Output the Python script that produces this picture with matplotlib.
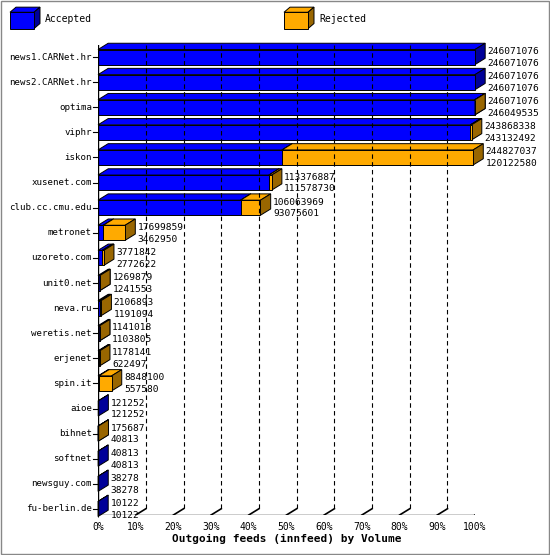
import matplotlib
matplotlib.use('Agg')
import matplotlib.pyplot as plt
from matplotlib.patches import Polygon, Rectangle

hosts = ['news1.CARNet.hr', 'news2.CARNet.hr', 'optima', 'viphr', 'iskon',
         'xusenet.com', 'club.cc.cmu.edu', 'metronet', 'uzoreto.com', 'unit0.net',
         'neva.ru', 'weretis.net', 'erjenet', 'spin.it', 'aioe', 'bihnet',
         'softnet', 'newsguy.com', 'fu-berlin.de']
offered = [246071076, 246071076, 246071076, 243868338, 244827037, 113376887,
           106063969, 17699859, 3771842, 1269879, 2106893, 1141018, 1178141,
           8848100, 121252, 175687, 40813, 38278, 10122]
accepted = [246071076, 246071076, 246049535, 243132492, 120122580, 111578730,
            93075601, 3462950, 2772622, 1241553, 1191094, 1103805, 622497,
            557580, 121252, 40813, 40813, 38278, 10122]

BLUE, ORANGE = '#0000ff', '#ffaa00'
DX, DY, H = 2.7, 0.25, 0.3
mono = 'DejaVu Sans Mono'

fig = plt.figure(figsize=(5.5, 5.55), dpi=100)
fig.patch.set_facecolor('white')
fig.add_artist(Rectangle((0.002, 0.002), 0.996, 0.996, transform=fig.transFigure,
                         fill=False, ec='#888888', lw=1))
ax = fig.add_axes([98 / 550, 40 / 555, 377 / 550, 470 / 555])
ax.set_xlim(0, 100)
ax.set_ylim(18.24, -0.48)
ax.axis('off')


def darker(c, f=0.6):
    r, g, b = matplotlib.colors.to_rgb(c)
    return (r * f, g * f, b * f)


def bar3d(x0, x1, y, color):
    if x1 - x0 <= 0:
        return
    ax.add_patch(Polygon([(x0, y - H), (x1, y - H), (x1 + DX, y - H - DY), (x0 + DX, y - H - DY)],
                         fc=color, ec='black', lw=0.7, clip_on=False))
    ax.add_patch(Polygon([(x1, y - H), (x1 + DX, y - H - DY), (x1 + DX, y + H - DY), (x1, y + H)],
                         fc=darker(color), ec='black', lw=0.7, clip_on=False))
    ax.add_patch(Rectangle((x0, y - H), x1 - x0, 2 * H, fc=color, ec='black', lw=0.7, clip_on=False))


# grid
for p in range(10, 101, 10):
    ax.plot([p + DX, p + DX], [-0.48, 18.24 - DY], ls=(0, (4, 3)), color='black', lw=0.8)
    ax.plot([p, p + DX], [18.24, 18.24 - DY], color='black', lw=1.2)
ax.plot([0, 0], [-0.48, 18.24], color='black', lw=1)
ax.plot([0, 100], [18.24, 18.24], color='black', lw=1)
for p in range(0, 101, 10):
    ax.text(p, 18.5, f'{p}%', ha='center', va='top', fontsize=7, family=mono)
ax.text(50, 19.0, 'Outgoing feeds (innfeed) by Volume', ha='center', va='top',
        fontsize=8, family=mono, weight='bold')

top = max(offered)
for i, (h, o, a) in enumerate(zip(hosts, offered, accepted)):
    pa = a / top * 100
    po = o / top * 100
    bar3d(0, pa, i, BLUE)
    bar3d(pa, po, i, ORANGE)
    ax.plot([-1.2, 0], [i, i], color='black', lw=0.8, clip_on=False)
    ax.text(-1.6, i, h, ha='right', va='center', fontsize=6.6, family=mono)
    ax.text(po + DX + 0.6, i - 0.22, str(o), ha='left', va='center', fontsize=6.8, family=mono)
    ax.text(po + DX + 0.6, i + 0.25, str(a), ha='left', va='center', fontsize=6.8, family=mono)

# legend
lg = fig.add_axes([0, 0.93, 1, 0.07])
lg.set_xlim(0, 550)
lg.set_ylim(38, 0)
lg.axis('off')
for x, c, t in [(10, BLUE, 'Accepted'), (284, ORANGE, 'Rejected')]:
    lg.add_patch(Polygon([(x, 12), (x + 24, 12), (x + 30, 7), (x + 6, 7)], fc=c, ec='black', lw=0.7))
    lg.add_patch(Polygon([(x + 24, 12), (x + 30, 7), (x + 30, 23), (x + 24, 28)], fc=darker(c), ec='black', lw=0.7))
    lg.add_patch(Rectangle((x, 12), 24, 16, fc=c, ec='black', lw=0.7))
    lg.text(x + 35, 19, t, va='center', fontsize=7, family=mono)

fig.savefig('out.png', dpi=100)
